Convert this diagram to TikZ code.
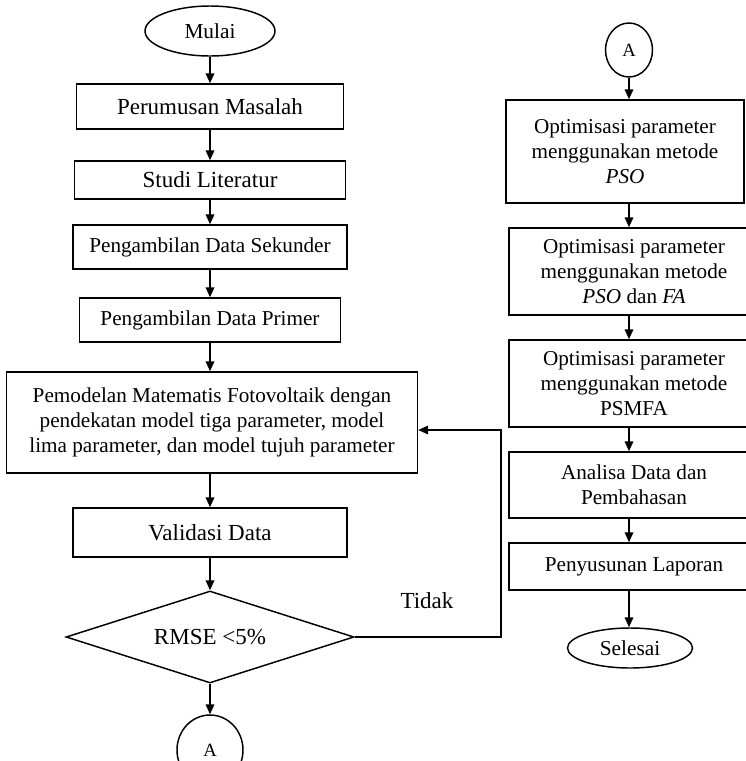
\documentclass[tikz,border=0pt]{standalone}
\usepackage{fontspec}
\setmainfont{Liberation Serif}
\usetikzlibrary{arrows.meta,shapes.geometric}

\begin{document}
\begin{tikzpicture}[x=0.75pt,y=-0.75pt,
  line width=1.1pt,
  font=\fontsize{17.25}{18.75}\selectfont,
  bw/.style={minimum width=#1*0.75pt},
  bh/.style={minimum height=#1*0.75pt},
  box/.style={draw, rectangle, inner sep=0pt, align=center},
  smalltext/.style={font=\fontsize{15.9}{18.75}\selectfont},
  term/.style={draw, ellipse, inner sep=0pt, font=\fontsize{16}{18}\selectfont},
  conn/.style={draw, ellipse, inner sep=0pt, font=\fontsize{14}{16}\selectfont},
  decision/.style={draw, diamond, inner sep=0pt, aspect=3},
  arr/.style={-{Triangle[length=7.5pt,width=6.5pt]}},
]
\useasboundingbox (0,0) rectangle (746,761);
\clip (0,0) rectangle (746,761);

% left column
\node[term, bw=130, bh=50] (mulai) at (210,31) {Mulai};
\node[box, bw=267, bh=45] (p1) at (210,106.5) {Perumusan Masalah};
\node[box, bw=271, bh=38] (p2) at (210,180) {Studi Literatur};
\node[box, smalltext, bw=274, bh=44] (p3) at (210,247) {Pengambilan Data Sekunder};
\node[box, smalltext, bw=261, bh=44] (p4) at (210,320) {Pengambilan Data Primer};
\node[box, smalltext, bw=411, bh=101] (p5) at (212,422.5)
  {Pemodelan Matematis Fotovoltaik dengan\\pendekatan model tiga parameter, model\\lima parameter, dan model tujuh parameter};
\node[box, bw=274, bh=49] (p6) at (210,532.5) {Validasi Data};
\node[decision, bw=288, bh=92] (dec) at (210,637) {RMSE <5\%};
\node[conn, bw=66, bh=70] (conA) at (210,750) {A};
\node (tidak) at (427,601) {Tidak};
\coordinate (fb) at (501,430);

% right column
\node[conn, bw=47, bh=54] (conB) at (629,50) {A};
\node[box, smalltext, bw=238, bh=103] (q1) at (625,151.5)
  {Optimisasi parameter\\menggunakan metode\\\textit{PSO}};
\node[box, smalltext, bw=250, bh=87] (q2) at (634,271.5)
  {Optimisasi parameter\\menggunakan metode\\\textit{PSO} dan \textit{FA}};
\node[box, smalltext, bw=250, bh=87] (q3) at (634,383.5)
  {Optimisasi parameter\\menggunakan metode\\PSMFA};
\node[box, smalltext, bw=250, bh=66] (q4) at (634,485)
  {Analisa Data dan\\Pembahasan};
\node[box, smalltext, bw=250, bh=47] (q5) at (634,566.5) {Penyusunan Laporan};
\node[term, bw=125, bh=40] (selesai) at (630,648) {Selesai};

% connectors, left column
\draw[arr] (mulai) -- (mulai |- p1.north);
\draw[arr] (p1.south -| mulai) -- (p2.north -| mulai);
\draw[arr] (p2.south -| mulai) -- (p3.north -| mulai);
\draw[arr] (p3.south -| mulai) -- (p4.north -| mulai);
\draw[arr] (p4.south -| mulai) -- (p5.north -| mulai);
\draw[arr] (p5.south -| mulai) -- (p6.north -| mulai);
\draw[arr] (p6.south -| mulai) -- (dec.north);
\draw[arr] (dec.south) -- (conA.north);
\draw[arr] (dec.east) -| (fb) -- (fb -| p5.east);

% connectors, right column
\draw[arr] (conB.south) -- (conB |- q1.north);
\draw[arr] (q1.south -| conB) -- (q2.north -| conB);
\draw[arr] (q2.south -| conB) -- (q3.north -| conB);
\draw[arr] (q3.south -| conB) -- (q4.north -| conB);
\draw[arr] (q4.south -| conB) -- (q5.north -| conB);
\draw[arr] (q5.south -| conB) -- (selesai.north -| conB);
\end{tikzpicture}
\end{document}
